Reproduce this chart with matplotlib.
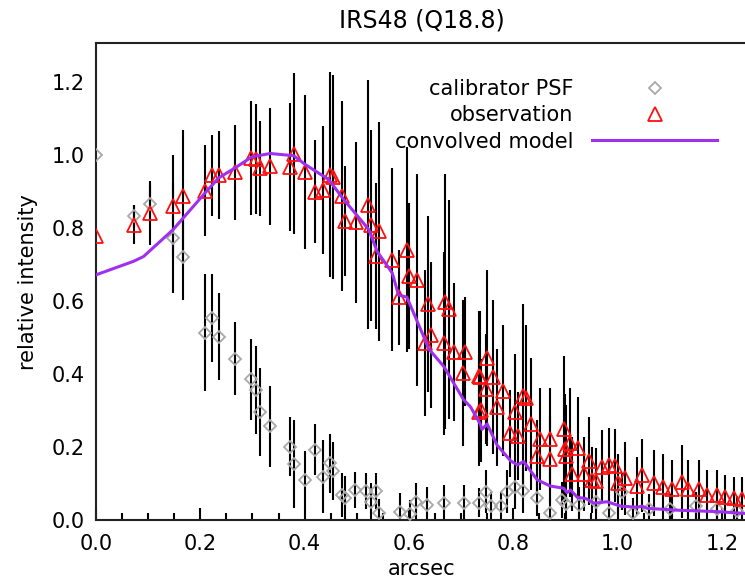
import matplotlib
matplotlib.use('Agg')
import matplotlib.pyplot as plt
from matplotlib.ticker import MultipleLocator

# calibrator PSF (grey diamonds)
psf_x = [0.000, 0.072, 0.104, 0.147, 0.166, 0.209, 0.222, 0.235, 0.267, 0.298,
         0.306, 0.315, 0.333, 0.371, 0.380, 0.400, 0.420, 0.435, 0.448, 0.454,
         0.472, 0.478, 0.497, 0.518, 0.527, 0.537, 0.543, 0.582, 0.602, 0.614,
         0.635, 0.667, 0.705, 0.735, 0.747, 0.757, 0.777, 0.789, 0.804, 0.818,
         0.845, 0.871, 0.893, 0.902, 0.927, 0.958, 0.983, 1.008, 1.030, 1.060,
         1.100, 1.150, 1.190, 1.230]
psf_y = [1.000, 0.831, 0.866, 0.772, 0.721, 0.513, 0.552, 0.502, 0.441, 0.385,
         0.356, 0.295, 0.256, 0.201, 0.153, 0.110, 0.192, 0.119, 0.155, 0.134,
         0.068, 0.060, 0.082, 0.080, 0.050, 0.080, 0.018, 0.023, 0.016, 0.050,
         0.041, 0.046, 0.046, 0.047, 0.078, 0.038, 0.038, 0.078, 0.091, 0.080,
         0.060, 0.020, 0.055, 0.044, 0.041, 0.050, 0.020, 0.078, 0.020, 0.030,
         0.030, 0.038, 0.030, 0.025]
psf_err = [0.00, 0.03, 0.05, 0.15, 0.12, 0.16, 0.12, 0.12, 0.10, 0.11,
           0.12, 0.12, 0.11, 0.08, 0.12, 0.08, 0.07, 0.10, 0.08, 0.08,
           0.06, 0.06, 0.05, 0.05, 0.05, 0.05, 0.04, 0.05, 0.04, 0.05,
           0.05, 0.05, 0.05, 0.04, 0.06, 0.04, 0.04, 0.06, 0.06, 0.06,
           0.05, 0.04, 0.05, 0.05, 0.05, 0.05, 0.04, 0.05, 0.04, 0.04,
           0.04, 0.04, 0.04, 0.04]

# observation (red triangles)
obs_x = [0.000, 0.072, 0.104, 0.147, 0.166, 0.209, 0.222, 0.235, 0.267, 0.298,
         0.306, 0.315, 0.333, 0.371, 0.380, 0.401, 0.420, 0.436, 0.448, 0.454,
         0.472, 0.477, 0.499, 0.522, 0.527, 0.537, 0.543, 0.568, 0.581, 0.596,
         0.600, 0.616, 0.631, 0.637, 0.643, 0.667, 0.670, 0.676, 0.687, 0.704,
         0.707, 0.734, 0.734, 0.736, 0.739, 0.747, 0.750, 0.761, 0.768, 0.780,
         0.793, 0.804, 0.809, 0.819, 0.824, 0.835, 0.845, 0.851, 0.870, 0.871,
         0.897, 0.900, 0.902, 0.909, 0.913, 0.924, 0.935, 0.945, 0.951, 0.958,
         0.971, 0.983, 0.996, 1.000, 1.015, 1.038, 1.047, 1.070, 1.088, 1.105,
         1.123, 1.135, 1.156, 1.172, 1.191, 1.207, 1.223, 1.239]
obs_y = [0.778, 0.808, 0.840, 0.858, 0.886, 0.901, 0.943, 0.945, 0.952, 0.991,
         0.988, 0.963, 0.968, 0.966, 1.002, 0.952, 0.899, 0.904, 0.945, 0.939,
         0.886, 0.819, 0.815, 0.863, 0.806, 0.723, 0.790, 0.712, 0.610, 0.740,
         0.667, 0.658, 0.484, 0.591, 0.507, 0.484, 0.598, 0.577, 0.460, 0.402,
         0.461, 0.393, 0.297, 0.391, 0.300, 0.358, 0.443, 0.391, 0.309, 0.354,
         0.237, 0.295, 0.230, 0.340, 0.334, 0.263, 0.175, 0.221, 0.166, 0.221,
         0.248, 0.194, 0.175, 0.212, 0.126, 0.196, 0.126, 0.162, 0.110, 0.108,
         0.146, 0.151, 0.148, 0.102, 0.114, 0.093, 0.123, 0.102, 0.090, 0.084,
         0.105, 0.084, 0.084, 0.068, 0.068, 0.064, 0.059, 0.057]
obs_err = [0.00, 0.053, 0.087, 0.14, 0.18, 0.125, 0.11, 0.12, 0.13, 0.155,
           0.15, 0.13, 0.16, 0.175, 0.22, 0.21, 0.14, 0.175, 0.28, 0.28,
           0.26, 0.15, 0.22, 0.34, 0.26, 0.20, 0.30, 0.25, 0.13, 0.28,
           0.20, 0.29, 0.20, 0.24, 0.20, 0.25, 0.35, 0.30, 0.19, 0.20,
           0.15, 0.18, 0.15, 0.18, 0.14, 0.15, 0.24, 0.21, 0.16, 0.18,
           0.12, 0.16, 0.12, 0.25, 0.20, 0.18, 0.10, 0.14, 0.12, 0.14,
           0.20, 0.15, 0.14, 0.15, 0.10, 0.14, 0.10, 0.12, 0.09, 0.09,
           0.10, 0.10, 0.10, 0.08, 0.10, 0.08, 0.10, 0.09, 0.09, 0.08,
           0.10, 0.08, 0.08, 0.07, 0.07, 0.06, 0.06, 0.06]

# convolved model (purple line)
mod_x = [0.000, 0.072, 0.091, 0.148, 0.209, 0.235, 0.267, 0.299, 0.334, 0.379,
         0.401, 0.446, 0.475, 0.523, 0.539, 0.568, 0.580, 0.596, 0.631, 0.637,
         0.667, 0.705, 0.718, 0.737, 0.740, 0.750, 0.769, 0.795, 0.808, 0.820,
         0.846, 0.871, 0.897, 0.903, 0.910, 0.923, 0.939, 0.955, 0.980, 1.006,
         1.038, 1.047, 1.057, 1.114, 1.153, 1.191, 1.245]
mod_y = [0.671, 0.708, 0.721, 0.795, 0.895, 0.936, 0.964, 0.994, 1.003, 0.997,
         0.973, 0.932, 0.877, 0.795, 0.735, 0.676, 0.616, 0.610, 0.493, 0.470,
         0.420, 0.329, 0.310, 0.262, 0.248, 0.263, 0.205, 0.162, 0.151, 0.160,
         0.110, 0.093, 0.087, 0.075, 0.082, 0.062, 0.059, 0.046, 0.050, 0.038,
         0.035, 0.038, 0.032, 0.027, 0.025, 0.023, 0.018]

plt.rcParams['font.family'] = 'DejaVu Sans'
plt.rcParams['font.size'] = 15

fig = plt.figure(figsize=(7.45, 5.83), dpi=100)
ax = fig.add_axes([0.1289, 0.108, 0.875, 0.818])

ax.errorbar(psf_x, psf_y, yerr=psf_err, fmt='none', ecolor='black', elinewidth=1.5)
ax.errorbar(obs_x, obs_y, yerr=obs_err, fmt='none', ecolor='black', elinewidth=1.5)

ax.plot(psf_x, psf_y, linestyle='none', marker='D', markersize=6.5,
        markerfacecolor='none', markeredgecolor='#a8a8a8', markeredgewidth=1.3,
        label='calibrator PSF', zorder=3)
ax.plot(obs_x, obs_y, linestyle='none', marker='^', markersize=10,
        markerfacecolor='none', markeredgecolor='#ff1010', markeredgewidth=1.3,
        label='observation', zorder=4)
ax.plot(mod_x, mod_y, color='#a030f0', linewidth=2.2, label='convolved model', zorder=5)

ax.set_xlim(0, 1.25)
ax.set_ylim(0, 1.305)
ax.xaxis.set_major_locator(MultipleLocator(0.2))
ax.xaxis.set_minor_locator(MultipleLocator(0.05))
ax.yaxis.set_major_locator(MultipleLocator(0.2))
ax.xaxis.set_major_formatter(plt.FormatStrFormatter('%.1f'))
ax.yaxis.set_major_formatter(plt.FormatStrFormatter('%.1f'))
ax.tick_params(axis='x', which='major', direction='in', length=9, width=1.5, pad=10)
ax.tick_params(axis='x', which='minor', direction='in', length=5, width=1.5)
ax.tick_params(axis='y', which='both', length=0, pad=8)

for side in ['left', 'bottom', 'top']:
    ax.spines[side].set_linewidth(1.5)
    ax.spines[side].set_color('#222222')
ax.spines['right'].set_visible(False)

ax.set_title('IRS48 (Q18.8)', fontsize=17, pad=11)
ax.set_xlabel('arcsec', labelpad=4)
ax.set_ylabel('relative intensity', labelpad=10)

leg = ax.legend(loc='upper right', bbox_to_anchor=(717 / 745, 1 - 79 / 583),
                bbox_transform=fig.transFigure, frameon=False, markerfirst=False,
                handlelength=6, handletextpad=0.9, labelspacing=0.3,
                borderpad=0, borderaxespad=0, fontsize=15)

fig.savefig('out.png', dpi=100)
